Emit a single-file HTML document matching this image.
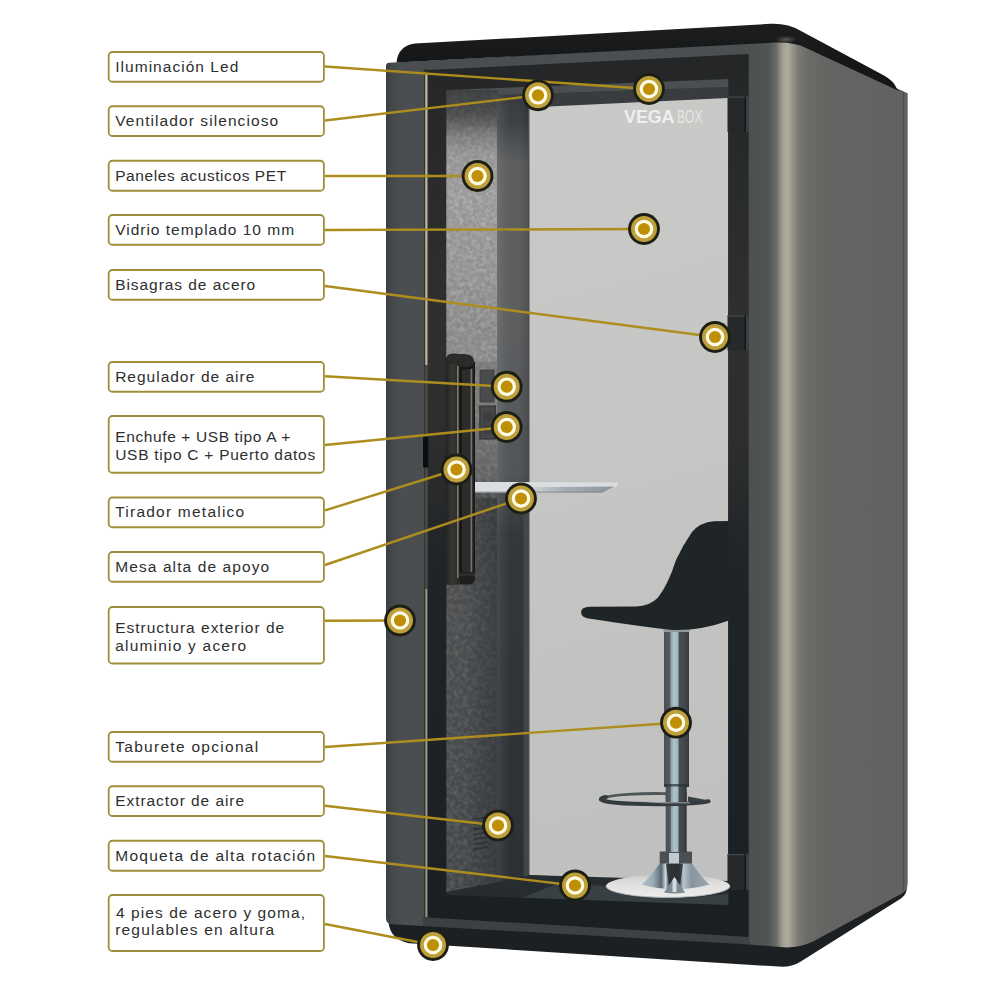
<!DOCTYPE html>
<html lang="es">
<head>
<meta charset="utf-8">
<title>VegaBox – características</title>
<style>
html,body{margin:0;padding:0;background:#fff;}
body{width:1000px;height:1000px;position:relative;overflow:hidden;font-family:"Liberation Sans",sans-serif;}
#stage{position:absolute;left:0;top:0;width:1000px;height:1000px;}
#art{position:absolute;left:0;top:0;}
.lb{position:absolute;left:115px;margin:0;color:#2e2e2e;font-size:15.5px;line-height:18px;height:18px;white-space:nowrap;}
</style>
</head>
<body>
<div id="stage">
<svg id="art" width="1000" height="1000" viewBox="0 0 1000 1000">
<defs>

<linearGradient id="gBody" gradientUnits="userSpaceOnUse" x1="386" y1="0" x2="907.7" y2="0">
  <stop offset="0" stop-color="#3a3e41"/>
  <stop offset="0.010" stop-color="#43474a"/>
  <stop offset="0.030" stop-color="#4a4e51"/>
  <stop offset="0.056" stop-color="#4a4e51"/>
  <stop offset="0.073" stop-color="#494d50"/>
  <stop offset="0.697" stop-color="#4b5051"/>
  <stop offset="0.735" stop-color="#505556"/>
  <stop offset="0.748" stop-color="#6b6c68"/>
  <stop offset="0.760" stop-color="#a09d91"/>
  <stop offset="0.7695" stop-color="#b0ad9f"/>
  <stop offset="0.779" stop-color="#98968b"/>
  <stop offset="0.791" stop-color="#7a7873"/>
  <stop offset="0.810" stop-color="#6b6a67"/>
  <stop offset="0.852" stop-color="#646462"/>
  <stop offset="1" stop-color="#626260"/>
</linearGradient>
<linearGradient id="gFelt" gradientUnits="userSpaceOnUse" x1="0" y1="90" x2="0" y2="892">
  <stop offset="0" stop-color="#48494a"/>
  <stop offset="0.025" stop-color="#5c5d5d"/>
  <stop offset="0.055" stop-color="#939391"/>
  <stop offset="0.13" stop-color="#a09f9d"/>
  <stop offset="0.22" stop-color="#979795"/>
  <stop offset="0.30" stop-color="#8c8c8a"/>
  <stop offset="0.40" stop-color="#898987"/>
  <stop offset="0.485" stop-color="#6a6a6a"/>
  <stop offset="0.51" stop-color="#484a4b"/>
  <stop offset="0.65" stop-color="#4c4e50"/>
  <stop offset="1" stop-color="#444749"/>
</linearGradient>
<linearGradient id="gFeltSh" gradientUnits="userSpaceOnUse" x1="446" y1="0" x2="496" y2="0">
  <stop offset="0" stop-color="#2a2d2f" stop-opacity="0"/>
  <stop offset="0.4" stop-color="#2a2d2f" stop-opacity="0.05"/>
  <stop offset="0.7" stop-color="#2a2d2f" stop-opacity="0.3"/>
  <stop offset="1" stop-color="#2a2d2f" stop-opacity="0.5"/>
</linearGradient>
<linearGradient id="gTable" gradientUnits="userSpaceOnUse" x1="520" y1="0" x2="610" y2="0">
  <stop offset="0" stop-color="#969da1" stop-opacity="0"/>
  <stop offset="0.5" stop-color="#969da1" stop-opacity="0.75"/>
  <stop offset="1" stop-color="#8e9599" stop-opacity="1"/>
</linearGradient>
<linearGradient id="gWall" gradientUnits="userSpaceOnUse" x1="0" y1="92" x2="0" y2="882">
  <stop offset="0" stop-color="#35383a"/>
  <stop offset="0.04" stop-color="#3f4244"/>
  <stop offset="0.09" stop-color="#5c5e60"/>
  <stop offset="0.30" stop-color="#5c5e60"/>
  <stop offset="0.485" stop-color="#525558"/>
  <stop offset="0.51" stop-color="#44474a"/>
  <stop offset="0.56" stop-color="#33373a"/>
  <stop offset="1" stop-color="#2b2f32"/>
</linearGradient>
<linearGradient id="gGlass" gradientUnits="userSpaceOnUse" x1="528" y1="100" x2="728" y2="880">
  <stop offset="0" stop-color="#c9c9c7"/>
  <stop offset="0.5" stop-color="#c5c5c3"/>
  <stop offset="1" stop-color="#bfc0bf"/>
</linearGradient>
<radialGradient id="gSpot"><stop offset="0" stop-color="#8a887d" stop-opacity="0.55"/><stop offset="1" stop-color="#8a887d" stop-opacity="0"/></radialGradient>
<linearGradient id="gWallH" gradientUnits="userSpaceOnUse" x1="497" y1="0" x2="528" y2="0">
  <stop offset="0" stop-color="#fff" stop-opacity="0.10"/>
  <stop offset="0.5" stop-color="#888" stop-opacity="0"/>
  <stop offset="1" stop-color="#000" stop-opacity="0.14"/>
</linearGradient>
<linearGradient id="gFeltTop" gradientUnits="userSpaceOnUse" x1="0" y1="90" x2="0" y2="154">
  <stop offset="0" stop-color="#3a3c3d" stop-opacity="0.75"/>
  <stop offset="0.35" stop-color="#3a3c3d" stop-opacity="0.6"/>
  <stop offset="0.7" stop-color="#3a3c3d" stop-opacity="0.25"/>
  <stop offset="1" stop-color="#3a3c3d" stop-opacity="0"/>
</linearGradient>
<linearGradient id="gPlate" gradientUnits="userSpaceOnUse" x1="0" y1="874.6" x2="0" y2="897.4">
  <stop offset="0" stop-color="#cbcbc9"/>
  <stop offset="0.35" stop-color="#dededc"/>
  <stop offset="1" stop-color="#ededeb"/>
</linearGradient>
<linearGradient id="gFrame" gradientUnits="userSpaceOnUse" x1="0" y1="54" x2="0" y2="937">
  <stop offset="0" stop-color="#232526"/>
  <stop offset="0.06" stop-color="#262829"/>
  <stop offset="0.3" stop-color="#302f2e"/>
  <stop offset="0.45" stop-color="#2d2d2d"/>
  <stop offset="0.58" stop-color="#1f2428"/>
  <stop offset="1" stop-color="#1a1f23"/>
</linearGradient>
<linearGradient id="gBar" gradientUnits="userSpaceOnUse" x1="445.5" y1="0" x2="459.5" y2="0">
  <stop offset="0" stop-color="#232322"/>
  <stop offset="0.45" stop-color="#363634"/>
  <stop offset="0.8" stop-color="#2f2f2d"/>
  <stop offset="1" stop-color="#222221"/>
</linearGradient>
<linearGradient id="gPole" x1="0" y1="0" x2="1" y2="0">
  <stop offset="0" stop-color="#4a4f53"/>
  <stop offset="0.22" stop-color="#555a5e"/>
  <stop offset="0.29" stop-color="#8fa3ad"/>
  <stop offset="0.40" stop-color="#b0c4cd"/>
  <stop offset="0.55" stop-color="#9fb3bd"/>
  <stop offset="0.61" stop-color="#4a4f53"/>
  <stop offset="0.8" stop-color="#43484c"/>
  <stop offset="1" stop-color="#363b3e"/>
</linearGradient>
<linearGradient id="gPole2" x1="0" y1="0" x2="1" y2="0">
  <stop offset="0" stop-color="#484d51"/>
  <stop offset="0.22" stop-color="#535a5e"/>
  <stop offset="0.27" stop-color="#8fa3ad"/>
  <stop offset="0.42" stop-color="#b0c4cd"/>
  <stop offset="0.58" stop-color="#9fb3bd"/>
  <stop offset="0.64" stop-color="#474c50"/>
  <stop offset="0.85" stop-color="#3e4347"/>
  <stop offset="1" stop-color="#30353a"/>
</linearGradient>
<clipPath id="cRingFront"><rect x="600" y="799" width="115" height="10"/></clipPath>
<linearGradient id="gCone" gradientUnits="userSpaceOnUse" x1="641" y1="0" x2="709" y2="0">
  <stop offset="0" stop-color="#b6c3cc"/>
  <stop offset="0.18" stop-color="#9aabb8"/>
  <stop offset="0.30" stop-color="#5b6872"/>
  <stop offset="0.36" stop-color="#cdd8de"/>
  <stop offset="0.42" stop-color="#3a434a"/>
  <stop offset="0.55" stop-color="#2f363c"/>
  <stop offset="0.62" stop-color="#b9c6ce"/>
  <stop offset="0.74" stop-color="#8795a0"/>
  <stop offset="1" stop-color="#99a6af"/>
</linearGradient>
<linearGradient id="gRoof" gradientUnits="userSpaceOnUse" x1="0" y1="22" x2="0" y2="64">
  <stop offset="0" stop-color="#1c1e1f"/>
  <stop offset="1" stop-color="#141617"/>
</linearGradient>
<filter id="fNoise" x="0" y="0" width="100%" height="100%">
  <feTurbulence type="fractalNoise" baseFrequency="0.22" numOctaves="3" seed="7" result="n"/>
  <feColorMatrix in="n" type="matrix" values="0 0 0 0 1  0 0 0 0 1  0 0 0 0 1  1.2 0 0 0 -0.45" result="a"/>
  <feComposite in="a" in2="SourceGraphic" operator="in"/>
</filter>
<filter id="fNoiseD" x="0" y="0" width="100%" height="100%">
  <feTurbulence type="fractalNoise" baseFrequency="0.3" numOctaves="3" seed="23" result="n"/>
  <feColorMatrix in="n" type="matrix" values="0 0 0 0 0.15  0 0 0 0 0.15  0 0 0 0 0.15  0 1.4 0 0 -0.55" result="a"/>
  <feComposite in="a" in2="SourceGraphic" operator="in"/>
</filter>
<clipPath id="cOpen"><path d="M446,90 L728.5,79 L728.5,906 L446,896 Z"/></clipPath>

</defs>

<!-- base -->
<path d="M388.5,922 Q390,939.5 409,943.2 L779,966.6 Q791,967.5 800,962 L901,898.5 Q906.5,895 907,887 L812,940 L750,943 L398,923 Z" fill="#1d2022"/>
<!-- body -->
<path d="M386,66 Q386,63 389,62.8 L749,43 L775,41.5 Q795,41 806,47 L907.7,93.3 L907.7,883 Q907.7,890.5 901,894 L813,941.5 Q797,949 780,947 L750,944.5 L392,924.3 Q386,924 386,918 Z" fill="url(#gBody)"/>
<!-- roof -->
<path d="M396.5,62.5 Q398,46 415,43.6 L770,23.8 Q788,23 801,31 L884,75.5 Q894,81 897,89 L900,91.5 L806,48 Q795,42 775,42.5 L749,44 L396.5,62.5 Z" fill="url(#gRoof)"/>
<ellipse cx="786" cy="39.5" rx="11" ry="4" fill="url(#gSpot)"/>
<path d="M902.7,91.5 L904.3,92.2 L904.3,889.5 L902.7,890.5 Z" fill="#4d4d4b"/>
<!-- interior -->
<g clip-path="url(#cOpen)">
  <rect x="440" y="70" width="300" height="850" fill="#3b3e40"/>
  <path d="M446,90 L728,79 L728,87 L446,97 Z" fill="#4c4f52"/>
  <path d="M446,97 L728,87 L728,98.5 L528,108 L446,108 Z" fill="#393c3e"/>
  <!-- back wall / glass -->
  <path d="M528,107.5 L728,98 L728,898 L704,898 L600,878.5 L528,875 Z" fill="url(#gGlass)"/>
  <!-- floor -->
  <path d="M446,890 L497,882 L528,875 L728,881 L728,906 L446,896 Z" fill="#272c30"/>
  <path d="M521,898.5 L556,884 L607,886 L686,898 L728,894 L728,906 Z" fill="#394044"/>
  <!-- side wall -->
  <path d="M497,93 L528,107 L528,875 L497,882 Z" fill="url(#gWall)"/>
  <rect x="527" y="108" width="2.5" height="768" fill="#2a2d2f" opacity="0.8"/>
  <!-- felt -->
  <path d="M446,91 L497,93 L497,882 L446,892 Z" fill="url(#gFelt)"/>
  <path d="M446,91 L498,93 L498,492 L446,492 Z" fill="#fff" filter="url(#fNoise)" opacity="0.40"/>
  <path d="M446,91 L498,93 L498,492 L446,492 Z" fill="#fff" filter="url(#fNoiseD)" opacity="0.5"/>
  <path d="M446,492 L498,492 L498,882 L446,892 Z" fill="#fff" filter="url(#fNoise)" opacity="0.24"/>
  <path d="M446,498 L498,498 L498,882 L446,892 Z" fill="url(#gFeltSh)"/>
  <rect x="446" y="90" width="52" height="64" fill="url(#gFeltTop)"/>
  <path d="M497,93 L528,107 L528,875 L497,882 Z" fill="url(#gWall)"/>
  <path d="M497,93 L528,107 L528,875 L497,882 Z" fill="url(#gWallH)"/>
  <rect x="475" y="362" width="22" height="120" fill="#3a3d3f" opacity="0.2"/>
  <rect x="523.5" y="500" width="4.5" height="376" fill="#474c50" opacity="0.8"/>
  <g stroke="#2b2e31" stroke-width="1.3" opacity="0.8"><line x1="473" y1="819.5" x2="488" y2="817"/><line x1="473" y1="824.5" x2="488" y2="822"/><line x1="473" y1="829.5" x2="488" y2="827"/><line x1="473" y1="834.5" x2="488" y2="832"/><line x1="473" y1="839.5" x2="488" y2="837"/><line x1="473" y1="844.5" x2="488" y2="842"/><line x1="473" y1="849.5" x2="488" y2="847"/></g>

</g>
<!-- door frame -->
<path fill-rule="evenodd" d="M428,70 L748.7,54 L748.7,937 L428,917.5 Z M446.3,90 L728.3,79 L728.3,905 L446.3,895 Z" fill="url(#gFrame)"/>
<path d="M423,917 L748.7,937 L750,944.5 L423,926 Z" fill="#101314" opacity="0.22"/>
<!-- light seam -->
<path d="M424,69.3 L428,69 L428,917.5 L424,917.2 Z" fill="#35332c"/>
<rect x="425.2" y="74" width="2.3" height="291" fill="#b9b29d"/>
<rect x="425.2" y="365" width="2.3" height="224" fill="#4b4d4c"/>
<rect x="425.4" y="589" width="1.9" height="328" fill="#9d9889"/>
<rect x="423" y="436.5" width="5.2" height="31" rx="0.8" fill="#0d0e0f"/>
<!-- hinges -->
<g>
  <rect x="727.5" y="96.5" width="21.5" height="35.5" fill="#26292a"/><rect x="727.5" y="96.5" width="21.5" height="1.2" fill="#45484a"/><rect x="744.6" y="96.5" width="1.2" height="35.5" fill="#111213"/><rect x="746" y="96.5" width="3" height="35.5" fill="#3b3e40"/>
  <rect x="727.5" y="315.5" width="21.5" height="35" fill="#26292a"/><rect x="727.5" y="315.5" width="21.5" height="1.2" fill="#45484a"/><rect x="744.6" y="315.5" width="1.2" height="35" fill="#111213"/><rect x="746" y="315.5" width="3" height="35" fill="#3b3e40"/>
  <rect x="727.5" y="854" width="21.5" height="36" fill="#26292a"/><rect x="727.5" y="854" width="21.5" height="1.2" fill="#45484a"/><rect x="744.6" y="854" width="1.2" height="36" fill="#111213"/><rect x="746" y="854" width="3" height="36" fill="#3b3e40"/>
</g>


<text x="624" y="122.5" font-family="'Liberation Sans',sans-serif" font-size="19" font-weight="700" fill="#efefed" textLength="50.5" lengthAdjust="spacingAndGlyphs">VEGA</text>
<text x="677" y="122.5" font-family="'Liberation Sans',sans-serif" font-size="19" font-weight="400" fill="#e6e6e4" textLength="25.5" lengthAdjust="spacingAndGlyphs">BOX</text>
<!-- switches -->
<rect x="480" y="370" width="14" height="32" fill="#4a4b4c" stroke="#3a3b3c" stroke-width="0.8"/>
<rect x="479.8" y="406" width="15.5" height="33" fill="#464748" stroke="#2f3031" stroke-width="1"/>
<rect x="483" y="412" width="9.5" height="9" fill="#3e3f40"/>
<rect x="483" y="425" width="9.5" height="9" fill="#3e3f40"/>
<!-- table -->
<path d="M474,482 L618,482.4 L618,485.5 L603,492.6 L474,492.6 Z" fill="#dbdee0"/>
<path d="M520,487.3 L614.5,486.6 L603,492.6 L520,492.6 Z" fill="url(#gTable)"/>
<path d="M474,491.6 L604,491.6 L602,492.8 L474,492.8 Z" fill="#7e868a" opacity="0.7"/>
<!-- handle -->
<rect x="459" y="362" width="16" height="218" fill="#171717"/>
<rect x="462" y="364" width="11.5" height="212" fill="#2c2c2a"/>
<rect x="470.6" y="368" width="1.5" height="204" fill="#74726a"/>
<rect x="445.5" y="358" width="14" height="226" fill="url(#gBar)"/>
<rect x="457.1" y="366" width="1.5" height="212" fill="#857f70"/>
<path d="M445.5,364 L445.5,361 Q445.5,353.8 453,353.6 L466,354.2 Q474.2,355 474.2,362 L474.2,365 Q474,369.2 468,369.2 L461,369.2 Q459.5,369 459.5,366 L459.5,364 Z" fill="#2b2b29"/>
<path d="M460,366 Q466,369.5 474,364 Q474,369.2 468,369.2 L461,369.2 Z" fill="#151515"/>
<path d="M445.5,584 L459.5,584 L459.5,572 L475,572 L475,578 Q475,584.5 469,584.5 L445.5,584.5 Z" fill="#1e1e1d"/>
<path d="M459.5,573 L475,573 L475,576 L459.5,576 Z" fill="#2d2d2b"/>
<!-- stool -->
<ellipse cx="668" cy="886" rx="62" ry="11.4" fill="url(#gPlate)"/>
<path d="M606,886 A62,11.4 0 0 0 730,886" fill="none" stroke="#b4babd" stroke-width="0.9"/>
<path d="M641.5,884.5 Q652,875 661,861.5 L691,861.5 Q699,875 709.5,884.5 Q675,894 641.5,884.5 Z" fill="url(#gCone)"/>
<path d="M666,864 L683,864 L680,886 L669,886 Z" fill="#2b3035" opacity="0.85"/>
<path d="M664,892.5 L674.5,877 L685,892.5 Q674,894.5 664,892.5 Z" fill="#7f8b94"/>
<path d="M672.5,880 L674.5,877 L676.5,880 L676.5,892 L672.5,892 Z" fill="#d3dbe0"/>
<rect x="659.7" y="851.5" width="32.3" height="12" rx="1" fill="#4a5054"/>
<rect x="669" y="853" width="10" height="10.5" fill="#bfcbd1"/>
<rect x="664" y="626" width="25" height="161" fill="url(#gPole)"/>
<rect x="665.7" y="786" width="21" height="66" fill="url(#gPole2)"/>
<rect x="664" y="784" width="25" height="2.5" fill="#2a2f32" opacity="0.7"/>
<path d="M606,797.5 A51.5,5 0 0 1 666,793.6" fill="none" stroke="#4f565a" stroke-width="2.8"/>
<path d="M688,796.5 L709,800.5 Q709,802.5 700,803.5 L688,804 Z" fill="#3a4145"/>

<rect x="665.7" y="793" width="21" height="8" fill="url(#gPole2)"/>
<path d="M606,797 A51.5,4.7 0 0 0 708.6,801.3" fill="none" stroke="#343b3f" stroke-width="4" stroke-linecap="round"/>
<path d="M640,801.4 Q665,803.6 690,802.8" fill="none" stroke="#aab4b9" stroke-width="0.9"/>
<path d="M660,621 L693,621 L689,632 L664,632 Z" fill="#8f9ba1"/>
<path d="M581,612.5 Q581,607 590,606.8 L636,606.6 Q650,606 658,597.5 Q668,585 676,560 Q683,545 692,532 Q700,522.5 714,521.3 L729,521 L729,620.5 Q700,631 672,630 Q640,626.5 592,619 Q581,618 581,612.5 Z" fill="#1f2426"/>
<g fill="#fff" stroke="#a08d39" stroke-width="1.8">
<rect x="108.7" y="52" width="215.2" height="29.75" rx="3.6"/>
<rect x="108.7" y="106.25" width="215.2" height="29.75" rx="3.6"/>
<rect x="108.7" y="160.75" width="215.2" height="30" rx="3.6"/>
<rect x="108.7" y="215" width="215.2" height="29.75" rx="3.6"/>
<rect x="108.7" y="270" width="215.2" height="29.75" rx="3.6"/>
<rect x="108.7" y="362" width="215.2" height="29.75" rx="3.6"/>
<rect x="108.7" y="416" width="215.2" height="56.75" rx="3.6"/>
<rect x="108.7" y="497.5" width="215.2" height="29.75" rx="3.6"/>
<rect x="108.7" y="552" width="215.2" height="29.75" rx="3.6"/>
<rect x="108.7" y="607" width="215.2" height="56.5" rx="3.6"/>
<rect x="108.7" y="732" width="215.2" height="29.75" rx="3.6"/>
<rect x="108.7" y="786.25" width="215.2" height="29.75" rx="3.6"/>
<rect x="108.7" y="840.75" width="215.2" height="30" rx="3.6"/>
<rect x="108.7" y="895" width="215.2" height="56" rx="3.6"/>
</g>
<g stroke="#ad8d1e" stroke-width="2.4" stroke-linecap="butt" fill="none">
<line x1="325" y1="66.5" x2="649" y2="89"/>
<line x1="325" y1="120.5" x2="538" y2="95.3"/>
<line x1="325" y1="176" x2="477.5" y2="176"/>
<line x1="325" y1="230" x2="644" y2="229"/>
<line x1="325" y1="286" x2="715" y2="337"/>
<line x1="325" y1="376.2" x2="506.7" y2="386.7"/>
<line x1="325" y1="445" x2="506.7" y2="427"/>
<line x1="325" y1="510.4" x2="456.5" y2="469.5"/>
<line x1="325" y1="565" x2="521" y2="498.5"/>
<line x1="325" y1="620.8" x2="400" y2="620.5"/>
<line x1="325" y1="747" x2="676" y2="722.7"/>
<line x1="325" y1="805.8" x2="498" y2="825.5"/>
<line x1="325" y1="856" x2="575" y2="885.5"/>
<line x1="325" y1="924" x2="433" y2="945"/>
</g>

<g transform="translate(649,89)"><circle r="15.9" fill="#1d1f16"/><circle r="13" fill="#bea03a"/><circle r="9.3" fill="#fffbe6"/><circle r="6.1" fill="#bf8f06"/></g>
<g transform="translate(538,95.3)"><circle r="15.9" fill="#1d1f16"/><circle r="13" fill="#bea03a"/><circle r="9.3" fill="#fffbe6"/><circle r="6.1" fill="#bf8f06"/></g>
<g transform="translate(477.5,176)"><circle r="15.9" fill="#1d1f16"/><circle r="13" fill="#bea03a"/><circle r="9.3" fill="#fffbe6"/><circle r="6.1" fill="#bf8f06"/></g>
<g transform="translate(644,229)"><circle r="15.9" fill="#1d1f16"/><circle r="13" fill="#bea03a"/><circle r="9.3" fill="#fffbe6"/><circle r="6.1" fill="#bf8f06"/></g>
<g transform="translate(715,337)"><circle r="15.9" fill="#1d1f16"/><circle r="13" fill="#bea03a"/><circle r="9.3" fill="#fffbe6"/><circle r="6.1" fill="#bf8f06"/></g>
<g transform="translate(506.7,386.7)"><circle r="15.9" fill="#1d1f16"/><circle r="13" fill="#bea03a"/><circle r="9.3" fill="#fffbe6"/><circle r="6.1" fill="#bf8f06"/></g>
<g transform="translate(506.7,427)"><circle r="15.9" fill="#1d1f16"/><circle r="13" fill="#bea03a"/><circle r="9.3" fill="#fffbe6"/><circle r="6.1" fill="#bf8f06"/></g>
<g transform="translate(456.5,469.5)"><circle r="15.9" fill="#1d1f16"/><circle r="13" fill="#bea03a"/><circle r="9.3" fill="#fffbe6"/><circle r="6.1" fill="#bf8f06"/></g>
<g transform="translate(521,498.5)"><circle r="15.9" fill="#1d1f16"/><circle r="13" fill="#bea03a"/><circle r="9.3" fill="#fffbe6"/><circle r="6.1" fill="#bf8f06"/></g>
<g transform="translate(400,620.5)"><circle r="15.9" fill="#1d1f16"/><circle r="13" fill="#bea03a"/><circle r="9.3" fill="#fffbe6"/><circle r="6.1" fill="#bf8f06"/></g>
<g transform="translate(676,722.7)"><circle r="15.9" fill="#1d1f16"/><circle r="13" fill="#bea03a"/><circle r="9.3" fill="#fffbe6"/><circle r="6.1" fill="#bf8f06"/></g>
<g transform="translate(498,825.5)"><circle r="15.9" fill="#1d1f16"/><circle r="13" fill="#bea03a"/><circle r="9.3" fill="#fffbe6"/><circle r="6.1" fill="#bf8f06"/></g>
<g transform="translate(575,885.5)"><circle r="15.9" fill="#1d1f16"/><circle r="13" fill="#bea03a"/><circle r="9.3" fill="#fffbe6"/><circle r="6.1" fill="#bf8f06"/></g>
<g transform="translate(433,945)"><circle r="15.9" fill="#1d1f16"/><circle r="13" fill="#bea03a"/><circle r="9.3" fill="#fffbe6"/><circle r="6.1" fill="#bf8f06"/></g>

</svg>

<p class="lb" style="left:115.2px;top:57.88px;letter-spacing:1.04px">Iluminación Led</p>
<p class="lb" style="left:115.2px;top:112.13px;letter-spacing:1.08px">Ventilador silencioso</p>
<p class="lb" style="left:115.2px;top:166.63px;letter-spacing:0.58px">Paneles acusticos PET</p>
<p class="lb" style="left:115.2px;top:220.88px;letter-spacing:0.99px">Vidrio templado 10 mm</p>
<p class="lb" style="left:115.2px;top:275.88px;letter-spacing:0.94px">Bisagras de acero</p>
<p class="lb" style="left:115.2px;top:367.88px;letter-spacing:0.99px">Regulador de aire</p>
<p class="lb" style="left:115.2px;top:427.88px;letter-spacing:0.62px">Enchufe + USB tipo A +</p>
<p class="lb" style="left:115.2px;top:445.88px;letter-spacing:0.74px">USB tipo C + Puerto datos</p>
<p class="lb" style="left:115.2px;top:503.38px;letter-spacing:1.23px">Tirador metalico</p>
<p class="lb" style="left:115.2px;top:557.88px;letter-spacing:1.10px">Mesa alta de apoyo</p>
<p class="lb" style="left:115.2px;top:618.58px;letter-spacing:0.99px">Estructura exterior de</p>
<p class="lb" style="left:115.2px;top:636.58px;letter-spacing:1.21px">aluminio y acero</p>
<p class="lb" style="left:115.2px;top:737.88px;letter-spacing:1.29px">Taburete opcional</p>
<p class="lb" style="left:115.2px;top:792.13px;letter-spacing:0.95px">Extractor de aire</p>
<p class="lb" style="left:115.2px;top:846.63px;letter-spacing:1.28px">Moqueta de alta rotación</p>
<p class="lb" style="left:116px;top:904.08px;letter-spacing:1.07px">4 pies de acero y goma,</p>
<p class="lb" style="left:115.2px;top:921.08px;letter-spacing:1.20px">regulables en altura</p>
</div>
</body>
</html>
